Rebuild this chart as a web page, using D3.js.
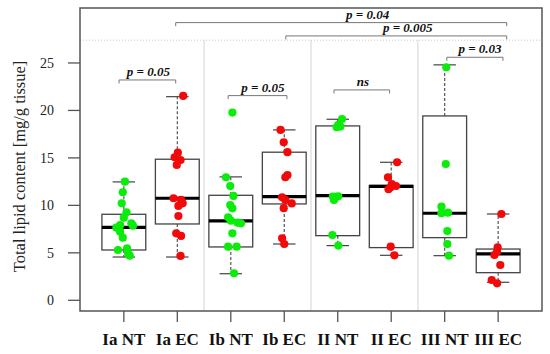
<!DOCTYPE html>
<html>
<head>
<meta charset="utf-8">
<script src="https://cdn.jsdelivr.net/npm/d3@7"></script>
<style>
  body { margin: 0; background: #fff; }
  svg { display: block; }
  text { font-family: "Liberation Serif", "Times New Roman", Times, "DejaVu Serif", serif; }
</style>
</head>
<body>
<div id="chart"></div>
<script>
// groups along the x axis
const groups = ["Ia NT", "Ia EC", "Ib NT", "Ib EC", "II NT", "II EC", "III NT", "III EC"];

const iaNT = [12.5, 11.38, 10.22, 9.27, 8.7, 8.11, 7.93, 7.65, 7.86, 7.23, 6.6, 5.3, 5.48, 4.95, 4.7];
const iaEC = [21.53, 15.55, 15.07, 14.78, 14.26, 10.75, 10.57, 10.22, 9.94, 8.88, 7.06, 6.78, 4.67];
const ibNT = [19.77, 12.96, 12.04, 10.99, 10.04, 9.69, 8.74, 8.39, 8.18, 8.11, 7.06, 5.65, 5.65, 2.85];
const ibEC = [17.95, 16.65, 15.6, 13.2, 12.96, 10.85, 10.57, 10.2, 9.7, 6.53, 5.93];
const iiNT = [19.1, 18.47, 18.3, 18.23, 10.92, 10.9, 10.95, 10.57, 6.88, 5.76];
const iiEC = [14.54, 12.96, 12.25, 12.04, 11.7, 11.9, 5.65, 4.74];
const iiiNT = [24.55, 14.36, 9.86, 9.17, 9.23, 7.3, 5.93, 4.7];
const iiiEC = [9.09, 5.58, 5.12, 4.77, 3.72, 2.14, 1.79];

// horizontal jitter of each point, in group units
const jitter = [
  [0.02, -0.02, -0.04, 0.05, 0, 0.14, -0.07, -0.14, 0.17, -0.07, -0.02, -0.11, 0.06, 0.08, 0.11],
  [0.11, 0.01, -0.05, 0.06, -0.01, -0.07, 0.07, 0.1, 0.02, 0.02, -0.02, 0.07, 0.06],
  [0.03, -0.09, -0.01, 0.05, -0.01, 0.03, -0.05, 0, 0.13, 0.19, 0.03, -0.05, 0.11, 0.06],
  [-0.07, -0.01, 0.06, 0.06, 0.02, -0.04, 0.02, 0.14, -0.01, -0.04, 0],
  [0.08, 0.01, 0.05, -0.02, -0.09, -0.04, 0.01, -0.07, -0.1, 0.01],
  [0.11, -0.06, 0.01, 0.09, -0.05, -0.01, -0.01, 0.06],
  [0.03, 0.02, -0.06, -0.06, 0.06, 0.05, 0.05, 0.08],
  [0.06, -0.01, -0.02, -0.07, 0.04, -0.12, -0.02]
];

// box statistics per group: lower whisker, Q1, median, Q3, upper whisker
const whiskerLow = [4.56, 4.56, 2.8, 5.93, 5.76, 4.74, 4.7, 1.9];
const q1 = [5.3, 8.04, 5.62, 10.15, 6.81, 5.55, 6.6, 2.91];
const median = [7.69, 10.75, 8.36, 10.92, 11.03, 12.0, 9.17, 4.88];
const q3 = [9.06, 14.86, 11.06, 15.6, 18.37, 12.1, 19.42, 5.4];
const whiskerHigh = [12.47, 21.45, 13.0, 17.95, 19.07, 14.54, 24.8, 9.09];

// significance brackets: from / to (group positions), height, label, label position
const bracketFrom = [0.91, 2.95, 4.93, 7.04, 1.97, 4.03];
const bracketTo = [1.97, 4.05, 5.97, 8.09, 8.16, 8.16];
const bracketY = [23.21, 21.56, 22.16, 25.6, 29.25, 27.85];
const bracketLabel = ["p = 0.05", "p = 0.05", "ns", "p = 0.03", "p = 0.04", "p = 0.005"];
const bracketLabelX = [1.46, 3.6, 5.47, 7.66, 5.56, 6.31];

const yTicks = [0, 5, 10, 15, 20, 25];
const splitLevel = 27.4;
const separators = [2.5, 4.5, 6.5];

const samples = [iaNT, iaEC, ibNT, ibEC, iiNT, iiEC, iiiNT, iiiEC];

const width = 550, height = 354;
const plotL = 80, plotR = 542, plotT = 8, plotB = 311;
const serif = "'Liberation Serif', 'Times New Roman', Times, serif";

const x = d3.scaleLinear().domain([0.18, 8.82]).range([plotL, plotR]);
const y = d3.scaleLinear().domain([-1.127, 30.79]).range([plotB, plotT]);

const boxW = 0.41;   // half box width in group units
const capW = 0.21;

const green = "#0aec0a";
const red = "#f20a0a";
const colorOf = (g) => (g.endsWith("NT") ? green : red);

const svg = d3.select("#chart").append("svg")
  .attr("width", width)
  .attr("height", height)
  .attr("font-family", serif);

// separators between tumour classes
svg.append("g")
  .selectAll("line")
  .data(separators)
  .join("line")
  .attr("x1", (d) => x(d)).attr("x2", (d) => x(d))
  .attr("y1", y(splitLevel)).attr("y2", plotB)
  .attr("stroke", "#d4d4d4")
  .attr("stroke-width", 1);

svg.append("line")
  .attr("x1", plotL).attr("x2", plotR)
  .attr("y1", y(splitLevel)).attr("y2", y(splitLevel))
  .attr("stroke", "#c8c8c8")
  .attr("stroke-dasharray", "1,2");

// boxes
const box = svg.append("g")
  .selectAll("g")
  .data(groups)
  .join("g");

box.append("line")
  .attr("x1", (d, i) => x(i + 1)).attr("x2", (d, i) => x(i + 1))
  .attr("y1", (d, i) => y(q3[i])).attr("y2", (d, i) => y(whiskerHigh[i]))
  .attr("stroke", "#555").attr("stroke-dasharray", "3,2").attr("stroke-width", 1.2);

box.append("line")
  .attr("x1", (d, i) => x(i + 1)).attr("x2", (d, i) => x(i + 1))
  .attr("y1", (d, i) => y(q1[i])).attr("y2", (d, i) => y(whiskerLow[i]))
  .attr("stroke", "#555").attr("stroke-dasharray", "3,2").attr("stroke-width", 1.2);

box.append("line")
  .attr("x1", (d, i) => x(i + 1 - capW)).attr("x2", (d, i) => x(i + 1 + capW))
  .attr("y1", (d, i) => y(whiskerHigh[i])).attr("y2", (d, i) => y(whiskerHigh[i]))
  .attr("stroke", "#444").attr("stroke-width", 1.2);

box.append("line")
  .attr("x1", (d, i) => x(i + 1 - capW)).attr("x2", (d, i) => x(i + 1 + capW))
  .attr("y1", (d, i) => y(whiskerLow[i])).attr("y2", (d, i) => y(whiskerLow[i]))
  .attr("stroke", "#444").attr("stroke-width", 1.2);

box.append("rect")
  .attr("x", (d, i) => x(i + 1 - boxW))
  .attr("width", (d, i) => x(i + 1 + boxW) - x(i + 1 - boxW))
  .attr("y", (d, i) => y(q3[i]))
  .attr("height", (d, i) => y(q1[i]) - y(q3[i]))
  .attr("fill", "none")
  .attr("stroke", "#444")
  .attr("stroke-width", 1.3);

box.append("line")
  .attr("x1", (d, i) => x(i + 1 - boxW)).attr("x2", (d, i) => x(i + 1 + boxW))
  .attr("y1", (d, i) => y(median[i])).attr("y2", (d, i) => y(median[i]))
  .attr("stroke", "#000").attr("stroke-width", 3.2);

// individual points
samples.forEach((vals, gi) => {
  svg.append("g")
    .selectAll("circle")
    .data(vals)
    .join("circle")
    .attr("cx", (d, j) => x(gi + 1 + jitter[gi][j]))
    .attr("cy", (d) => y(d))
    .attr("r", 4.1)
    .attr("fill", colorOf(groups[gi]));
});

// frame
svg.append("rect")
  .attr("x", plotL).attr("y", plotT)
  .attr("width", plotR - plotL).attr("height", plotB - plotT)
  .attr("fill", "none")
  .attr("stroke", "#555")
  .attr("stroke-width", 1.5);

// y axis
const yAxis = svg.append("g");
yAxis.selectAll("line")
  .data(yTicks)
  .join("line")
  .attr("x1", plotL - 12).attr("x2", plotL)
  .attr("y1", (d) => y(d)).attr("y2", (d) => y(d))
  .attr("stroke", "#555").attr("stroke-width", 1.3);
yAxis.selectAll("text")
  .data(yTicks)
  .join("text")
  .attr("x", 54)
  .attr("y", (d) => y(d))
  .attr("dy", "0.35em")
  .attr("text-anchor", "end")
  .attr("font-family", serif)
  .style("font-size", "14px")
  .attr("fill", "#222")
  .text((d) => d);

svg.append("text")
  .attr("transform", `translate(25,${y(14.1)}) rotate(-90)`)
  .attr("text-anchor", "middle")
  .attr("font-family", serif)
  .style("font-size", "16.5px")
  .attr("fill", "#222")
  .text("Total lipid content [mg/g tissue]");

// x axis
const xAxis = svg.append("g");
xAxis.selectAll("line")
  .data(groups)
  .join("line")
  .attr("x1", (d, i) => x(i + 1)).attr("x2", (d, i) => x(i + 1))
  .attr("y1", plotB).attr("y2", plotB + 11)
  .attr("stroke", "#555").attr("stroke-width", 1.3);
xAxis.selectAll("text")
  .data(groups)
  .join("text")
  .attr("x", (d, i) => x(i + 1))
  .attr("y", 345)
  .attr("text-anchor", "middle")
  .attr("font-family", serif)
  .style("font-size", "17px")
  .style("font-weight", "bold")
  .attr("fill", "#111")
  .text((d) => d);

// significance brackets
const br = svg.append("g")
  .selectAll("g")
  .data(bracketLabel)
  .join("g");

br.append("path")
  .attr("d", (d, i) => {
    const x0 = x(bracketFrom[i]), x1 = x(bracketTo[i]), yy = y(bracketY[i]);
    return `M${x0},${yy + 3.5}V${yy}H${x1}V${yy + 3.5}`;
  })
  .attr("fill", "none")
  .attr("stroke", "#777")
  .attr("stroke-width", 1);

br.append("text")
  .attr("x", (d, i) => x(bracketLabelX[i]))
  .attr("y", (d, i) => y(bracketY[i]) - 4)
  .attr("text-anchor", "middle")
  .attr("font-family", serif)
  .style("font-size", "13px")
  .style("font-weight", "bold")
  .style("font-style", "italic")
  .attr("fill", "#111")
  .text((d) => d);
</script>
</body>
</html>
